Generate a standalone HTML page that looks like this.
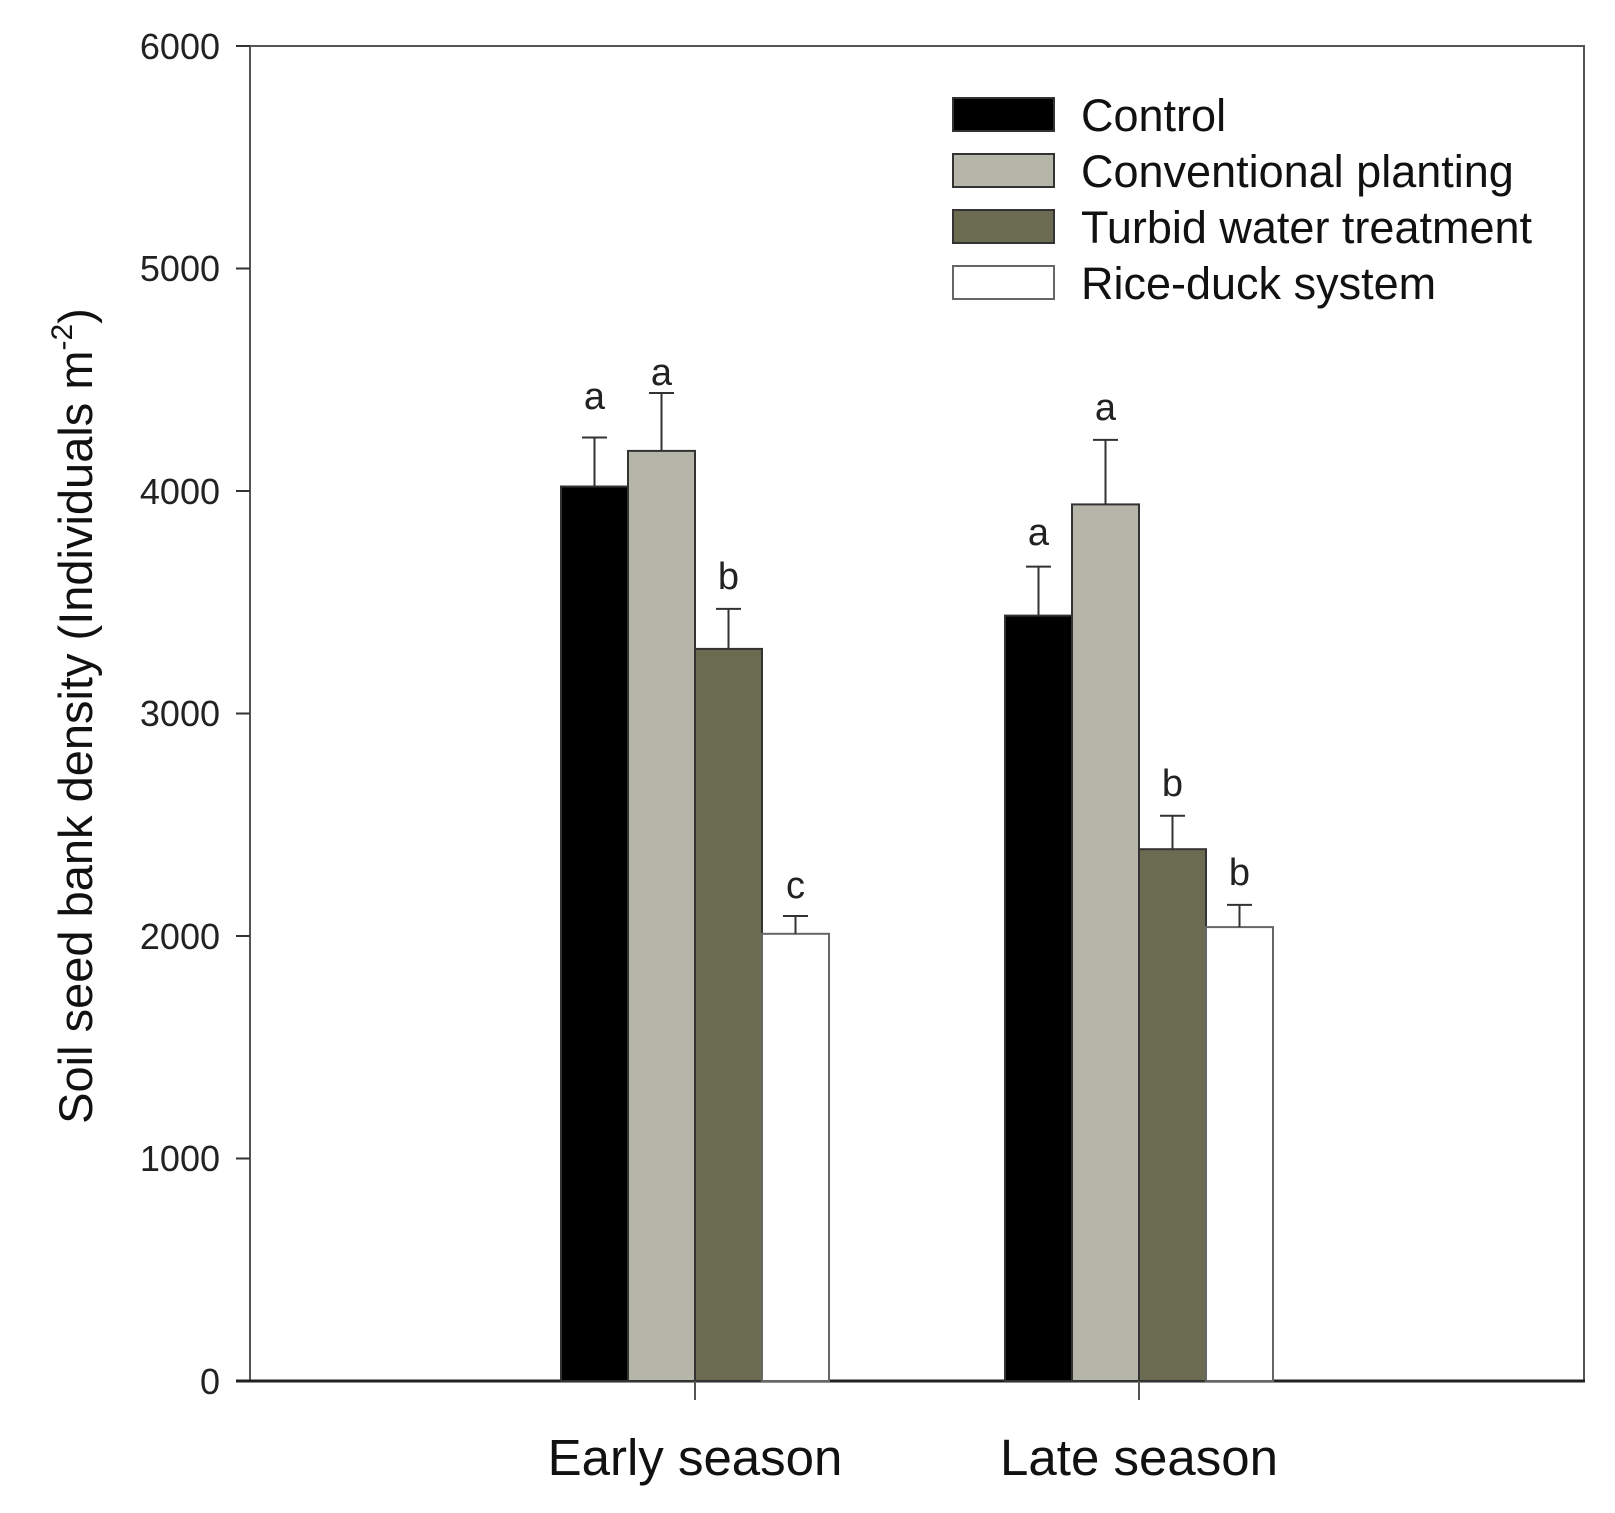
<!DOCTYPE html>
<html><head><meta charset="utf-8"><style>
html,body{margin:0;padding:0;background:#fff;}
svg{display:block;font-family:"Liberation Sans",Arial,sans-serif;}
</style></head><body>
<svg width="1615" height="1513" viewBox="0 0 1615 1513" xmlns="http://www.w3.org/2000/svg">
<rect width="1615" height="1513" fill="#fff"/>
<rect x="250" y="46" width="1334" height="1335" fill="none" stroke="#555" stroke-width="2"/>
<line x1="236" y1="1381" x2="1585" y2="1381" stroke="#222" stroke-width="3"/>
<g stroke="#333" stroke-width="2">
<line x1="236" y1="46" x2="250" y2="46"/>
<line x1="236" y1="268.5" x2="250" y2="268.5"/>
<line x1="236" y1="491" x2="250" y2="491"/>
<line x1="236" y1="713.5" x2="250" y2="713.5"/>
<line x1="236" y1="936" x2="250" y2="936"/>
<line x1="236" y1="1158.5" x2="250" y2="1158.5"/>
</g>
<g font-size="36" fill="#222" text-anchor="end">
<text x="220" y="59">6000</text>
<text x="220" y="281">5000</text>
<text x="220" y="504">4000</text>
<text x="220" y="726">3000</text>
<text x="220" y="949">2000</text>
<text x="220" y="1171">1000</text>
<text x="220" y="1394">0</text>
</g>
<g stroke="#333" stroke-width="2">
<rect x="561" y="486.5" width="67" height="894.5" fill="#000"/>
<rect x="628" y="450.9" width="67" height="930.1" fill="#b5b5a9"/>
<rect x="695" y="648.9" width="67" height="732.1" fill="#6b6b52"/>
<rect x="762" y="933.8" width="67" height="447.2" fill="#fff" stroke="#666"/>
<rect x="1005" y="615.6" width="67" height="765.4" fill="#000"/>
<rect x="1072" y="504.4" width="67" height="876.6" fill="#b5b5a9"/>
<rect x="1139" y="849.2" width="67" height="531.8" fill="#6b6b52"/>
<rect x="1206" y="927.1" width="67" height="453.9" fill="#fff" stroke="#666"/>
</g>
<g stroke="#333" stroke-width="2">
<path d="M594.5 486.5V437.5M582 437.5H607"/>
<path d="M661.5 450.9V393M649 393H674"/>
<path d="M728.5 648.9V608.9M716 608.9H741"/>
<path d="M795.5 933.8V916M783 916H808"/>
<path d="M1038.5 615.6V566.6M1026 566.6H1051"/>
<path d="M1105.5 504.4V439.9M1093 439.9H1118"/>
<path d="M1172.5 849.2V815.8M1160 815.8H1185"/>
<path d="M1239.5 927.1V904.9M1227 904.9H1252"/>
</g>
<g font-size="38" fill="#222" text-anchor="middle">
<text x="594.5" y="409">a</text>
<text x="661.5" y="385">a</text>
<text x="728.5" y="589">b</text>
<text x="795.5" y="898">c</text>
<text x="1038.5" y="545">a</text>
<text x="1105.5" y="420">a</text>
<text x="1172.5" y="796">b</text>
<text x="1239.5" y="885">b</text>
</g>
<g stroke="#555" stroke-width="2">
<line x1="695" y1="1381" x2="695" y2="1400"/>
<line x1="1139" y1="1381" x2="1139" y2="1400"/>
</g>
<g font-size="51" fill="#111" text-anchor="middle">
<text x="695" y="1475">Early season</text>
<text x="1139" y="1475">Late season</text>
</g>
<text transform="translate(92,716) rotate(-90)" font-size="47" fill="#111" text-anchor="middle">Soil seed bank density (Individuals m<tspan dy="-20" font-size="30">-2</tspan><tspan dy="20">)</tspan></text>
<g stroke="#333" stroke-width="2">
<rect x="953" y="98" width="101" height="33" fill="#000"/>
<rect x="953" y="154" width="101" height="33" fill="#b5b5a9"/>
<rect x="953" y="210" width="101" height="33" fill="#6b6b52"/>
<rect x="953" y="266" width="101" height="33" fill="#fff" stroke="#666"/>
</g>
<g font-size="45" fill="#111">
<text x="1081" y="131">Control</text>
<text x="1081" y="187">Conventional planting</text>
<text x="1081" y="243">Turbid water treatment</text>
<text x="1081" y="299">Rice-duck system</text>
</g>
</svg>
</body></html>
